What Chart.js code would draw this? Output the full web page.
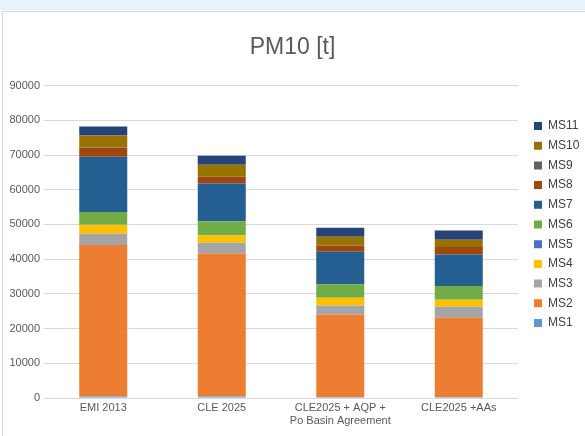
<!DOCTYPE html>
<html>
<head>
<meta charset="utf-8">
<script src="https://cdn.jsdelivr.net/npm/chart.js@4/dist/chart.umd.min.js"></script>
<style>
  body { margin: 0; width: 585px; height: 436px; position: relative; overflow: hidden; background: #fff; }
  .strip { position: absolute; left: 0; top: 0; width: 585px; height: 10px; background: #e7f3fc; }
  .frame { position: absolute; left: 2px; top: 11px; width: 600px; height: 440px; border: 1px solid #d9d9d9; }
  #wrap { position: absolute; left: 0; top: 0; width: 585px; height: 436px; }
</style>
</head>
<body>
<div class="strip"></div>
<div class="frame"></div>
<div id="wrap"><canvas id="pm10Chart"></canvas></div>
<script>
// categories and series (tonnes)
const scenarios = ['EMI 2013', 'CLE 2025', ['CLE2025 + AQP +', 'Po Basin Agreement'], 'CLE2025 +AAs'];
const ms1  = [400, 400, 300, 300];
const ms2  = [43700, 41200, 23650, 22870];
const ms3  = [3200, 3100, 2700, 3100];
const ms4  = [2600, 2100, 2200, 2000];
const ms5  = [50, 50, 50, 50];
const ms6  = [3650, 4050, 3850, 3950];
const ms7  = [15900, 10900, 9350, 9100];
const ms8  = [2600, 1900, 1700, 2100];
const ms9  = [50, 50, 50, 50];
const ms10 = [3450, 3450, 2600, 2100];
const ms11 = [2600, 2600, 2600, 2600];
const yTicks = [0, 10000, 20000, 30000, 40000, 50000, 60000, 70000, 80000, 90000];

const seriesNames = ['MS1', 'MS2', 'MS3', 'MS4', 'MS5', 'MS6', 'MS7', 'MS8', 'MS9', 'MS10', 'MS11'];
const seriesData = [ms1, ms2, ms3, ms4, ms5, ms6, ms7, ms8, ms9, ms10, ms11];
const seriesColors = ['#5B9BD5', '#ED7D31', '#A5A5A5', '#FFC000', '#4472C4', '#70AD47',
                      '#255E91', '#9E480E', '#636363', '#997300', '#264478'];

const FONT = "'Liberation Sans', Arial, sans-serif";
Chart.defaults.color = '#595959';
Chart.defaults.font.family = FONT;

new Chart(document.getElementById('pm10Chart'), {
    type: 'bar',
    data: {
        labels: scenarios,
        datasets: seriesNames.map((name, i) => ({
            label: name,
            data: seriesData[i],
            backgroundColor: seriesColors[i],
            borderWidth: 0,
            categoryPercentage: 1,
            barPercentage: 0.405
        }))
    },
    options: {
        responsive: true,
        maintainAspectRatio: false,
        animation: false,
        layout: { padding: 0 },
        plugins: {
            title: {
                display: true,
                text: 'PM10 [t]',
                color: '#595959',
                font: { size: 23, weight: 'normal', family: FONT },
                padding: { top: 34, bottom: 24 }
            },
            legend: {
                position: 'right',
                reverse: true,
                maxWidth: 58.7,
                // empty title only nudges the items down a little
                title: { display: true, text: '', font: { size: 10, lineHeight: 1.3 }, padding: 0 },
                labels: { boxWidth: 8, boxHeight: 8, padding: 7.7, color: '#404040', font: { size: 12 } }
            },
            tooltip: { enabled: false }
        },
        scales: {
            x: {
                stacked: true,
                grid: { display: false, drawTicks: false },
                border: { display: false },
                ticks: { padding: 3, font: { size: 11 }, color: '#595959', maxRotation: 0, autoSkip: false },
                afterFit: s => { s.height = 38; }
            },
            y: {
                stacked: true,
                min: 0,
                max: 90000,
                grid: { color: '#d9d9d9', drawTicks: false },
                border: { display: false },
                afterBuildTicks: s => { s.ticks = yTicks.map(v => ({ value: v })); },
                ticks: { padding: 4, font: { size: 11 }, color: '#595959', callback: v => String(v) },
                afterFit: s => { s.width = 44; }
            },
            gap: {
                position: 'right',
                display: true,
                grid: { drawOnChartArea: false, drawTicks: false },
                border: { display: false },
                ticks: { display: false },
                afterFit: s => { s.width = 8.3; }
            }
        }
    }
});
</script>
</body>
</html>
